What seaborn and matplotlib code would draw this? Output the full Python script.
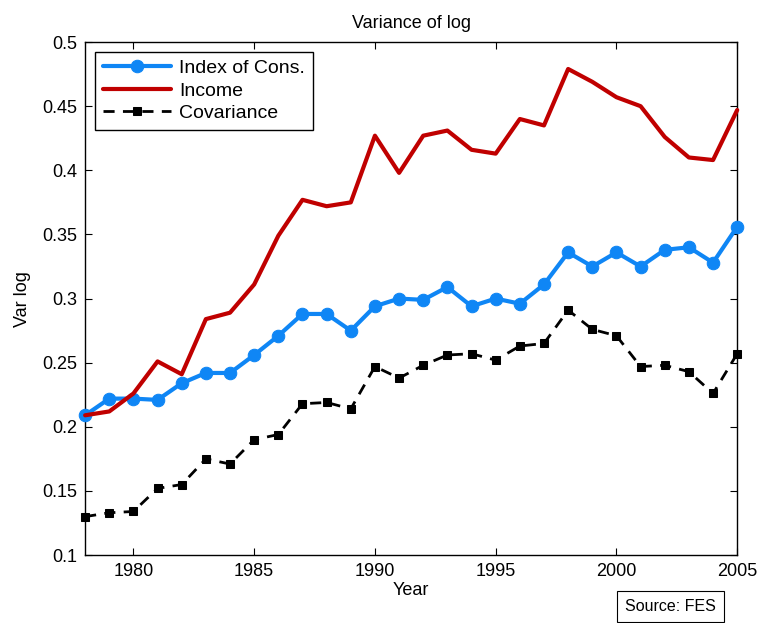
import numpy as np
import pandas as pd
import seaborn as sns
import matplotlib
matplotlib.use("Agg")
import matplotlib.pyplot as plt

years = list(range(1978, 2006))
cons = [0.209, 0.222, 0.222, 0.221, 0.234, 0.242, 0.242, 0.256, 0.271, 0.288,
        0.288, 0.275, 0.294, 0.300, 0.299, 0.309, 0.294, 0.300, 0.296, 0.311,
        0.336, 0.325, 0.336, 0.325, 0.338, 0.340, 0.328, 0.356]
income = [0.209, 0.212, 0.226, 0.251, 0.241, 0.284, 0.289, 0.311, 0.349, 0.377,
          0.372, 0.375, 0.427, 0.398, 0.427, 0.431, 0.416, 0.413, 0.440, 0.435,
          0.479, 0.469, 0.457, 0.450, 0.426, 0.410, 0.408, 0.447]
covar = [0.130, 0.133, 0.134, 0.152, 0.155, 0.175, 0.171, 0.190, 0.194, 0.218,
         0.219, 0.214, 0.247, 0.238, 0.248, 0.256, 0.257, 0.252, 0.263, 0.265,
         0.291, 0.276, 0.271, 0.247, 0.248, 0.243, 0.226, 0.257]

df = pd.DataFrame({"Year": years, "cons": cons, "income": income, "cov": covar})

sns.set_style("ticks")
plt.rcParams['font.family'] = ['Liberation Sans', 'DejaVu Sans']
plt.rcParams['text.color'] = 'black'
plt.rcParams['axes.labelcolor'] = 'black'
plt.rcParams['xtick.color'] = 'black'
plt.rcParams['ytick.color'] = 'black'
plt.rcParams['axes.edgecolor'] = 'black'

fig = plt.figure(figsize=(7.6, 6.23), dpi=100)
ax = fig.add_axes([0.112, 0.109, 0.858, 0.8235])

sns.lineplot(data=df, x="Year", y="cons", ax=ax, color="#0f86f5", lw=3,
             marker="o", markersize=9, markeredgecolor="#0f86f5",
             label="Index of Cons.", clip_on=False, zorder=3)
sns.lineplot(data=df, x="Year", y="income", ax=ax, color="#c00000", lw=3,
             label="Income", clip_on=False, zorder=3)
sns.lineplot(data=df, x="Year", y="cov", ax=ax, color="black", lw=2,
             marker="s", markersize=5.5, markeredgecolor="black",
             label="Covariance", clip_on=False, zorder=3)
ax.lines[-1].set_dashes((4, 3))

ax.set_xlim(1978, 2005)
ax.set_ylim(0.1, 0.5)
ax.set_xticks([1980, 1985, 1990, 1995, 2000, 2005])
ax.set_yticks(np.arange(0.1, 0.51, 0.05))
ax.set_yticklabels(["0.1", "0.15", "0.2", "0.25", "0.3", "0.35", "0.4", "0.45", "0.5"])
ax.tick_params(direction="in", top=True, right=True, labelsize=13, length=5,
               width=0.8, pad=6)
for s in ax.spines.values():
    s.set_linewidth(1)
ax.set_xlabel("Year", fontsize=13, labelpad=1)
ax.set_ylabel("Var log", fontsize=13, labelpad=8)
ax.set_title("Variance of log", fontsize=13, pad=10)

leg = ax.legend(loc="upper left", fontsize=14, frameon=True, fancybox=False,
                handlelength=3.5, borderaxespad=0.5, labelspacing=0.25,
                borderpad=0.4, handletextpad=0.45)
leg.get_frame().set_edgecolor("black")
leg.get_frame().set_linewidth(1)
leg.get_frame().set_alpha(1)

fig.text(0.882, 0.02, "Source: FES", fontsize=11.5, ha="center",
         bbox=dict(boxstyle="square,pad=0.5", facecolor="white", edgecolor="black", lw=0.8))

fig.savefig("out.png", dpi=100)
